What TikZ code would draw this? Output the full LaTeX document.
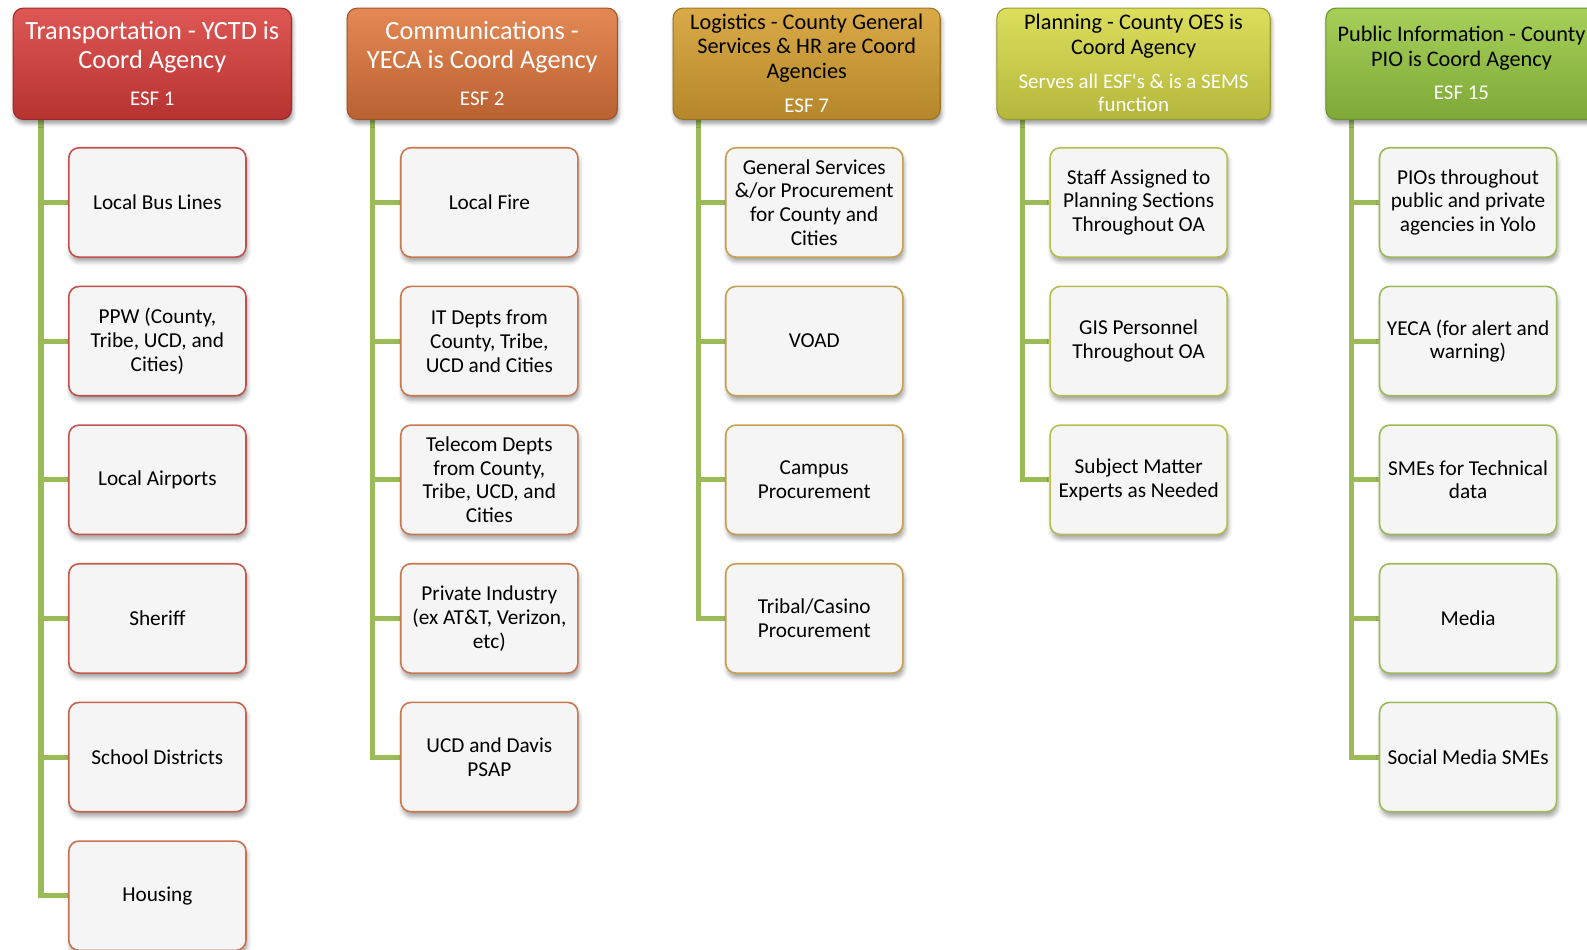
\documentclass[tikz,border=0pt]{standalone}
\usepackage{fontspec}
\setmainfont{Carlito}
\usetikzlibrary{shadows,shadows.blur}
\definecolor{connc}{HTML}{9BBB59}
\definecolor{boxfill}{HTML}{F5F5F5}
\definecolor{ca}{HTML}{C0504D}
\definecolor{cb}{HTML}{C87150}
\definecolor{c2}{HTML}{C8784F}
\definecolor{c3}{HTML}{C4A050}
\definecolor{c4}{HTML}{B8BD4E}
\definecolor{c5}{HTML}{9BBB59}
\definecolor{h1t}{HTML}{DE5754}
\definecolor{h1b}{HTML}{B63331}
\definecolor{h2t}{HTML}{E48955}
\definecolor{h2b}{HTML}{BA6132}
\definecolor{h3t}{HTML}{D9AA46}
\definecolor{h3b}{HTML}{B6872B}
\definecolor{h4t}{HTML}{DCDF5C}
\definecolor{h4b}{HTML}{B4B73C}
\definecolor{h5t}{HTML}{A6D058}
\definecolor{h5b}{HTML}{7EA938}
\pgfdeclarelayer{bg}
\pgfsetlayers{bg,main}
\tikzset{
  itembox/.style={draw=#1, line width=1.2pt, fill=boxfill, rounded corners=7.5pt,
    minimum width=131.25pt, minimum height=81pt, align=center, inner sep=2pt,
    font=\fontsize{15.75}{17.6}\selectfont,
    blur shadow={shadow xshift=1pt, shadow yshift=-3.5pt, shadow blur radius=3pt, shadow opacity=35}},
  headbox/.style n args={3}{draw=#2!85!black, line width=0.8pt, top color=#1, bottom color=#2,
    rounded corners=7.5pt, minimum width=#3, minimum height=82.5pt, inner sep=0pt,
    blur shadow={shadow xshift=1pt, shadow yshift=-3pt, shadow blur radius=3pt, shadow opacity=40}},
  bigtitle/.style={align=center, font=\fontsize{19.5}{21.75}\selectfont, inner sep=0pt},
  smalltitle/.style={align=center, font=\fontsize{16.5}{18.4}\selectfont, inner sep=0pt},
  esf/.style={align=center, font=\fontsize{15.5}{17.25}\selectfont, inner sep=0pt, text=white},
  connline/.style={draw=connc, line width=3.8pt},
}
\begin{document}
\begin{tikzpicture}[x=0.75pt,y=-0.75pt]
\useasboundingbox (0,0) rectangle (1568,938);

% headers
\node[headbox={h1t}{h1b}{206.25pt}] (h1) at (150.5,63) {};
\node[bigtitle, text=white] (h1a) at (150.5,46.5) {Transportation - YCTD is\\Coord Agency};
\node[esf] (h1e) at (150.5,98) {ESF 1};

\node[headbox={h2t}{h2b}{200.25pt}] (h2) at (476.5,63) {};
\node[bigtitle, text=white] (h2a) at (476.5,46.5) {Communications -\\YECA is Coord Agency};
\node[esf] (h2e) at (476.5,98) {ESF 2};

\node[headbox={h3t}{h3b}{198pt}] (h3) at (797,63) {};
\node[smalltitle] (h3a) at (797,47.5) {Logistics - County General\\Services \& HR are Coord\\Agencies};
\node[esf] (h3e) at (797,105) {ESF 7};

\node[headbox={h4t}{h4b}{202.5pt}] (h4) at (1120,63) {};
\node[smalltitle] (h4a) at (1120,35.5) {Planning - County OES is\\Coord Agency};
\node[esf] (h4e) at (1120,92) {Serves all ESF\textquotesingle s \& is a SEMS\\function};

\node[headbox={h5t}{h5b}{201pt}] (h5) at (1444,63) {};
\node[smalltitle] (h5a) at (1444,47.5) {Public Information - County\\PIO is Coord Agency};
\node[esf] (h5e) at (1444,92) {ESF 15};

% column 1
\node[itembox=ca] (b11) at (155.5,200) {Local Bus Lines};
\node[itembox=ca] (b12) at (155.5,337) {PPW (County,\\Tribe, UCD, and\\Cities)};
\node[itembox=ca!85!cb] (b13) at (155.5,474) {Local Airports};
\node[itembox=ca!65!cb] (b14) at (155.5,611) {Sheriff};
\node[itembox=ca!40!cb] (b15) at (155.5,748) {School Districts};
\node[itembox=cb] (b16) at (155.5,885) {Housing};

% column 2
\node[itembox=c2] (b21) at (483.5,200) {Local Fire};
\node[itembox=c2] (b22) at (483.5,337) {IT Depts from\\County, Tribe,\\UCD and Cities};
\node[itembox=c2] (b23) at (483.5,474) {Telecom Depts\\from County,\\Tribe, UCD, and\\Cities};
\node[itembox=c2] (b24) at (483.5,611) {Private Industry\\(ex AT\&T, Verizon,\\etc)};
\node[itembox=c2] (b25) at (483.5,748) {UCD and Davis\\PSAP};

% column 3
\node[itembox=c3] (b31) at (804.5,200) {General Services\\\&/or Procurement\\for County and\\Cities};
\node[itembox=c3] (b32) at (804.5,337) {VOAD};
\node[itembox=c3] (b33) at (804.5,474) {Campus\\Procurement};
\node[itembox=c3] (b34) at (804.5,611) {Tribal/Casino\\Procurement};

% column 4
\node[itembox=c4] (b41) at (1125,200) {Staff Assigned to\\Planning Sections\\Throughout OA};
\node[itembox=c4] (b42) at (1125,337) {GIS Personnel\\Throughout OA};
\node[itembox=c4] (b43) at (1125,474) {Subject Matter\\Experts as Needed};

% column 5
\node[itembox=c5] (b51) at (1450.5,200) {PIOs throughout\\public and private\\agencies in Yolo};
\node[itembox=c5] (b52) at (1450.5,337) {YECA (for alert and\\warning)};
\node[itembox=c5] (b53) at (1450.5,474) {SMEs for Technical\\data};
\node[itembox=c5] (b54) at (1450.5,611) {Media};
\node[itembox=c5] (b55) at (1450.5,748) {Social Media SMEs};

% connectors
\begin{pgfonlayer}{bg}
\draw[connline] (h1.south west) ++(28,0) |- (b16.west);
\foreach \i in {1,...,5} \draw[connline] (b1\i.west) -- ++(-27,0);
\draw[connline] (h2.south west) ++(26,0) |- (b25.west);
\foreach \i in {1,...,4} \draw[connline] (b2\i.west) -- ++(-27,0);
\draw[connline] (h3.south west) ++(26,0) |- (b34.west);
\foreach \i in {1,...,3} \draw[connline] (b3\i.west) -- ++(-27,0);
\draw[connline] (h4.south west) ++(26,0) |- (b43.west);
\foreach \i in {1,...,2} \draw[connline] (b4\i.west) -- ++(-27,0);
\draw[connline] (h5.south west) ++(26,0) |- (b55.west);
\foreach \i in {1,...,4} \draw[connline] (b5\i.west) -- ++(-27,0);
\end{pgfonlayer}
\end{tikzpicture}
\end{document}
